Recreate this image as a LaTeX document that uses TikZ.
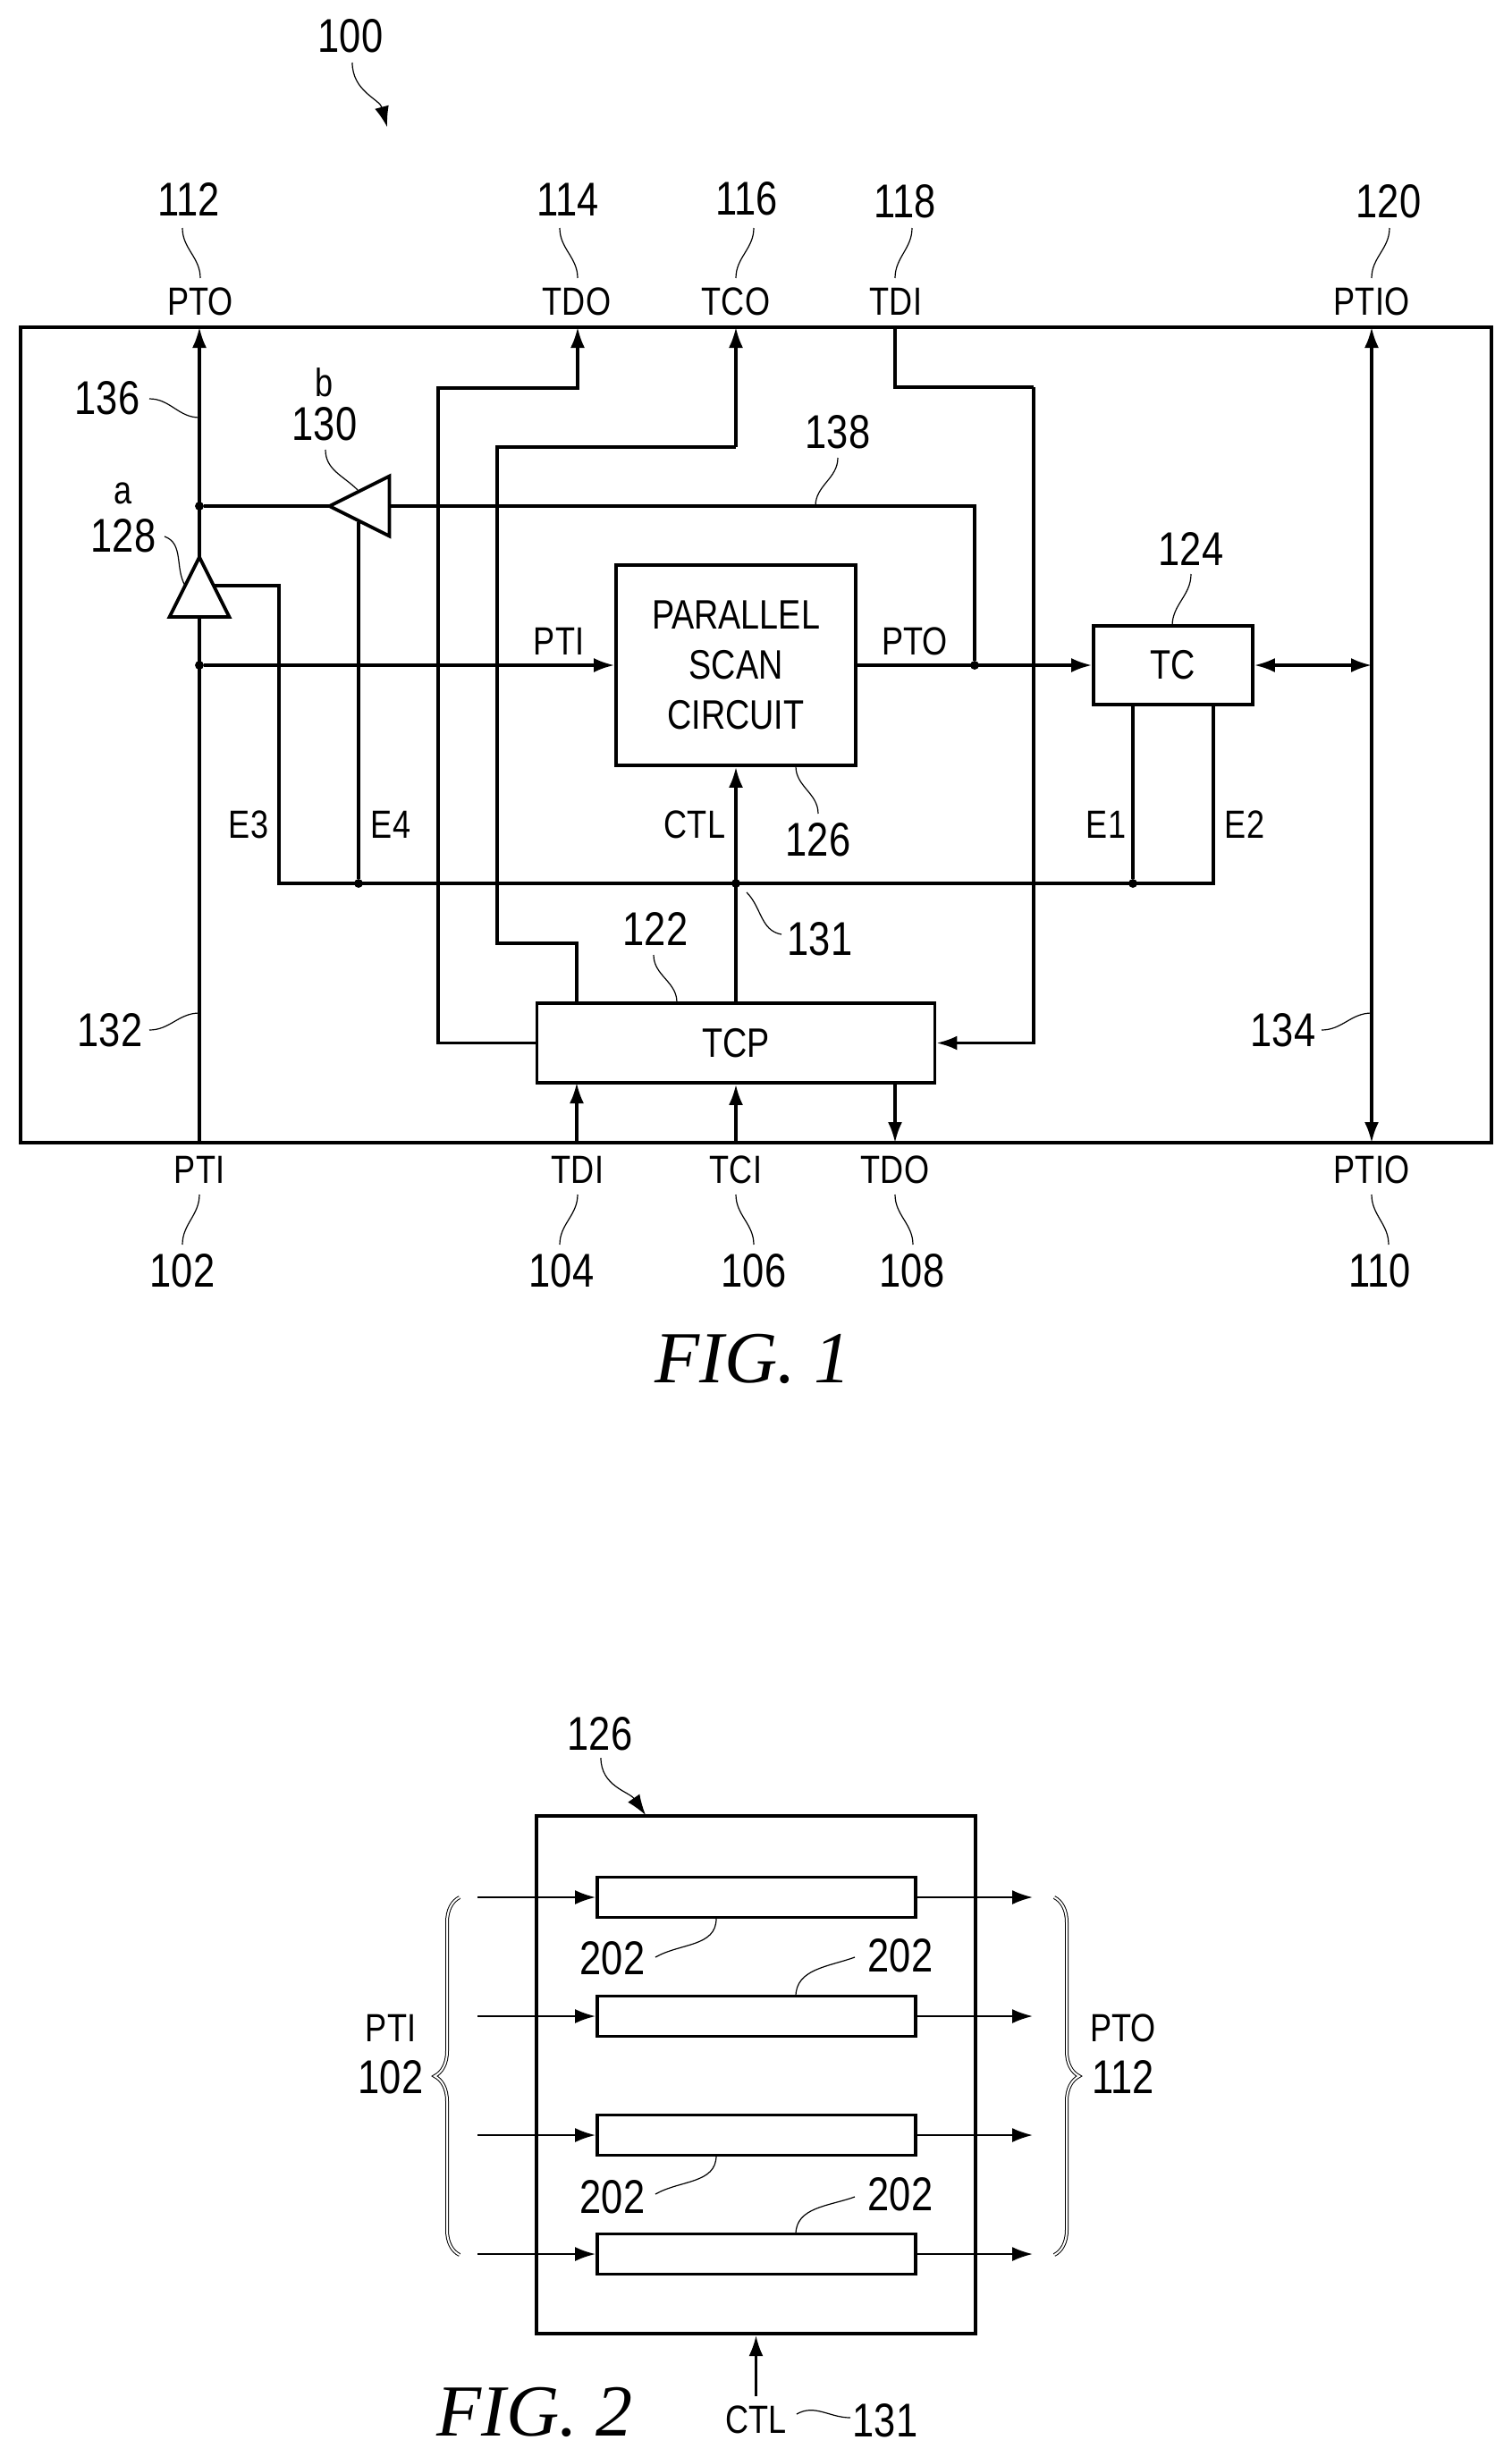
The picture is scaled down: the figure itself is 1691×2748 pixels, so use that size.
\documentclass[tikz,border=0pt]{standalone}
\usepackage{fontspec}
\setmainfont[FakeStretch=0.82]{Liberation Sans}
\newfontfamily\figfont{Liberation Serif}
\usetikzlibrary{arrows.meta,shapes.geometric,decorations.pathreplacing}

\begin{document}
\begin{tikzpicture}[x=0.5pt, y=-0.5pt, >={Latex[length=11.5pt, width=8pt]},
  frame/.style={rectangle, draw, line width=2.2pt, inner sep=0pt},
  block/.style={rectangle, draw, line width=1.9pt, inner sep=0pt, align=center, fill=white, font=\fontsize{23}{28}\selectfont},
  buffer/.style={isosceles triangle, isosceles triangle apex angle=53, isosceles triangle stretches, draw, fill=white, line width=1.9pt, inner sep=0pt, outer sep=0pt, minimum width=33.5pt, minimum height=33.5pt, anchor=apex},
  wire/.style={line width=1.6pt},
  thin wire/.style={line width=1.2pt},
  lead/.style={line width=0.6pt},
  dotnode/.style={circle, fill=black, draw=black, inner sep=0pt, minimum size=4.5pt},
  port/.style={inner sep=0pt, font=\fontsize{22}{24}\selectfont},
  refnum/.style={inner sep=0pt, font=\fontsize{26.5}{28}\selectfont},
  figlabel/.style={inner sep=0pt, font=\fontsize{41}{43}\figfont\itshape},
  bundle/.style={line width=0.5pt, double, double distance=1pt, decorate, decoration={brace, amplitude=14pt}}]

  \useasboundingbox (0,0) rectangle (1691,2748);

  \node[frame, minimum width=822.5pt, minimum height=456pt] (chip) at (845.5,822) {};
  \node[block, minimum width=134pt, minimum height=112pt] (scan) at (823,744) {PARALLEL\\SCAN\\CIRCUIT};
  \node[block, minimum width=89pt, minimum height=44pt] (tc) at (1312,744) {TC};
  \node[block, minimum width=222.5pt, minimum height=44.5pt] (tcp) at (823,1166.5) {TCP};

  \node[coordinate] (topPTO) at (223,366) {};
  \node[coordinate] (topTDO) at (646,366) {};
  \node[coordinate] (topTCO) at (823,366) {};
  \node[coordinate] (topTDI) at (1001,366) {};
  \node[coordinate] (topPTIO) at (1534,366) {};
  \node[coordinate] (botPTI) at (223,1278) {};
  \node[coordinate] (botTDI) at (645,1278) {};
  \node[coordinate] (botTCI) at (823,1278) {};
  \node[coordinate] (botTDO) at (1001,1278) {};
  \node[coordinate] (botPTIO) at (1534,1278) {};

  \node[coordinate] (bend114) at (490,434) {};
  \node[coordinate] (bend116a) at (556,1055) {};
  \node[coordinate] (bend116b) at (823,500) {};
  \node[coordinate] (bend118) at (1156,433) {};
  \node[coordinate] (busleft) at (312,988) {};
  \node[coordinate] (busright) at (1357,988) {};
  \node[coordinate] (tcE1) at (1267,788) {};
  \node[coordinate] (tcE2) at (1357,788) {};
  \node[coordinate] (tcpTCO) at (645,1122) {};
  \node[coordinate] (tcpTDI) at (645,1211) {};
  \node[coordinate] (tcpTDO) at (1001,1211) {};
  \node[coordinate] (enableA) at (239,655) {};
  \node[coordinate] (enableB) at (401,584) {};
  \node[coordinate] (ptio) at (1534,744) {};

  \node[dotnode] (dotTop) at (223,566) {};
  \node[dotnode] (dotPTI) at (223,744) {};
  \node[dotnode] (dotPTO) at (1090,744) {};
  \node[dotnode] (dotE4) at (401,988) {};
  \node[dotnode] (dotCTL) at (823,988) {};
  \node[dotnode] (dotE1) at (1267,988) {};

  \draw[wire, ->] (tcp.west) -| (bend114) -| (topTDO);
  \draw[wire] (tcpTCO) |- (bend116a) |- (bend116b);
  \draw[wire, ->] (bend116b) -- (topTCO);
  \draw[wire] (topTDI) |- (bend118);
  \draw[wire, ->] (bend118) |- (tcp.east);
  \draw[wire] (enableA) -| (busleft) -- (busright) -- (tcE2);
  \draw[wire] (dotE4) -- (enableB);
  \draw[wire] (dotE1) -- (tcE1);
  \draw[wire, ->] (tcp) -- (scan);
  \draw[wire, <->] (topPTIO) -- (botPTIO);
  \draw[wire, ->] (dotPTI) -- (scan);
  \draw[wire, ->] (scan) -- (tc);
  \draw[wire, <->] (tc) -- (ptio);
  \draw[wire, ->] (botTDI) -- (tcpTDI);
  \draw[wire, ->] (botTCI) -- (tcp);
  \draw[wire, ->] (tcpTDO) -- (botTDO);

  \node[buffer, shape border rotate=90] (bufa) at (223,623) {};
  \node[buffer, shape border rotate=180] (bufb) at (368.5,566) {};

  \draw[wire] (botPTI) -- (bufa.lower side);
  \draw[wire, ->] (bufa.apex) -- (topPTO);
  \draw[wire] (dotPTO) |- (bufb.lower side);
  \draw[wire] (bufb.apex) -- (dotTop);

  \node[port] (tPTO) at (224,337) {PTO};
  \node[port] (tTDO) at (645,337) {TDO};
  \node[port] (tTCO) at (823,337) {TCO};
  \node[port] (tTDI) at (1002,337) {TDI};
  \node[port] (tPTIO) at (1534,337) {PTIO};
  \node[port] (bPTI) at (223,1308) {PTI};
  \node[port] (bTDI) at (646,1308) {TDI};
  \node[port] (bTCI) at (823,1308) {TCI};
  \node[port] (bTDO) at (1001,1308) {TDO};
  \node[port] (bPTIO) at (1534,1308) {PTIO};
  \node[port] (sPTI) at (625,717) {PTI};
  \node[port] (sPTO) at (1023,717) {PTO};
  \node[port] (sCTL) at (777,922) {CTL};
  \node[port] (sE1) at (1237,922) {E1};
  \node[port] (sE2) at (1392,922) {E2};
  \node[port] (sE3) at (278,922) {E3};
  \node[port] (sE4) at (437,922) {E4};
  \node[port] (sa) at (138,552) {a};
  \node[port] (sb) at (363,428) {b};

  \node[refnum] (n100) at (392,40) {100};
  \node[refnum] (n112) at (211,223) {112};
  \node[refnum] (n114) at (635,223) {114};
  \node[refnum] (n116) at (835,222) {116};
  \node[refnum] (n118) at (1012,225) {118};
  \node[refnum] (n120) at (1553,225) {120};
  \node[refnum] (n136) at (120,445) {136};
  \node[refnum] (n130) at (363,474) {130};
  \node[refnum] (n128) at (138,599) {128};
  \node[refnum] (n138) at (937,483) {138};
  \node[refnum] (n124) at (1332,614) {124};
  \node[refnum] (n126) at (915,939) {126};
  \node[refnum] (n131) at (917,1050) {131};
  \node[refnum] (n122) at (733,1039) {122};
  \node[refnum] (n132) at (123,1152) {132};
  \node[refnum] (n134) at (1435,1152) {134};
  \node[refnum] (n102) at (204,1421) {102};
  \node[refnum] (n104) at (628,1421) {104};
  \node[refnum] (n106) at (843,1421) {106};
  \node[refnum] (n108) at (1020,1421) {108};
  \node[refnum] (n110) at (1543,1421) {110};

  \node[coordinate] (a100) at (394,70) {};
  \node[coordinate] (b100) at (433,142) {};
  \draw[lead, ->] (a100) to[out=270, in=105] (b100);
  \node[coordinate] (a112) at (204,255) {};
  \node[coordinate] (b112) at (224,311) {};
  \draw[lead] (a112) to[out=270, in=90] (b112);
  \node[coordinate] (a114) at (626,255) {};
  \node[coordinate] (b114) at (646,311) {};
  \draw[lead] (a114) to[out=270, in=90] (b114);
  \node[coordinate] (a116) at (843,255) {};
  \node[coordinate] (b116) at (823,311) {};
  \draw[lead] (a116) to[out=270, in=90] (b116);
  \node[coordinate] (a118) at (1020,255) {};
  \node[coordinate] (b118) at (1001,311) {};
  \draw[lead] (a118) to[out=270, in=90] (b118);
  \node[coordinate] (a120) at (1554,255) {};
  \node[coordinate] (b120) at (1534,311) {};
  \draw[lead] (a120) to[out=270, in=90] (b120);
  \node[coordinate] (a136) at (167,446) {};
  \node[coordinate] (b136) at (223,467) {};
  \draw[lead] (a136) to[out=0, in=180] (b136);
  \node[coordinate] (a130) at (364,503) {};
  \node[coordinate] (b130) at (400,548) {};
  \draw[lead] (a130) to[out=270, in=135] (b130);
  \node[coordinate] (a128) at (184,600) {};
  \node[coordinate] (b128) at (207,655) {};
  \draw[lead] (a128) to[out=-20, in=120] (b128);
  \node[coordinate] (a138) at (937,512) {};
  \node[coordinate] (b138) at (912,566) {};
  \draw[lead] (a138) to[out=270, in=90] (b138);
  \node[coordinate] (a124) at (1332,642) {};
  \node[coordinate] (b124) at (1311,700) {};
  \draw[lead] (a124) to[out=270, in=90] (b124);
  \node[coordinate] (a126) at (890,857) {};
  \node[coordinate] (b126) at (915,910) {};
  \draw[lead] (a126) to[out=270, in=90] (b126);
  \node[coordinate] (a131) at (835,998) {};
  \node[coordinate] (b131) at (874,1045) {};
  \draw[lead] (a131) to[out=-45, in=170] (b131);
  \node[coordinate] (a122) at (731,1068) {};
  \node[coordinate] (b122) at (757,1121) {};
  \draw[lead] (a122) to[out=270, in=90] (b122);
  \node[coordinate] (a132) at (167,1152) {};
  \node[coordinate] (b132) at (223,1133) {};
  \draw[lead] (a132) to[out=0, in=180] (b132);
  \node[coordinate] (a134) at (1478,1152) {};
  \node[coordinate] (b134) at (1534,1133) {};
  \draw[lead] (a134) to[out=0, in=180] (b134);
  \node[coordinate] (a102) at (223,1336) {};
  \node[coordinate] (b102) at (204,1392) {};
  \draw[lead] (a102) to[out=270, in=90] (b102);
  \node[coordinate] (a104) at (646,1336) {};
  \node[coordinate] (b104) at (626,1392) {};
  \draw[lead] (a104) to[out=270, in=90] (b104);
  \node[coordinate] (a106) at (823,1336) {};
  \node[coordinate] (b106) at (843,1392) {};
  \draw[lead] (a106) to[out=270, in=90] (b106);
  \node[coordinate] (a108) at (1001,1336) {};
  \node[coordinate] (b108) at (1021,1392) {};
  \draw[lead] (a108) to[out=270, in=90] (b108);
  \node[coordinate] (a110) at (1534,1336) {};
  \node[coordinate] (b110) at (1553,1392) {};
  \draw[lead] (a110) to[out=270, in=90] (b110);

  \node[figlabel] (fig1) at (842,1520) {FIG.\ 1};

  \node[frame, minimum width=245.5pt, minimum height=289.5pt] (scanbox) at (845.5,2320.5) {};
  \node[block, minimum width=178pt, minimum height=22.5pt] (regA) at (846,2122) {};
  \node[block, below of=regA, node distance=66.5pt, minimum width=178pt, minimum height=22.5pt] (regB) {};
  \node[block, below of=regB, node distance=66.5pt, minimum width=178pt, minimum height=22.5pt] (regC) {};
  \node[block, below of=regC, node distance=66.5pt, minimum width=178pt, minimum height=22.5pt] (regD) {};

  \node[coordinate, left of=regA, node distance=156pt] (inA) {};
  \node[coordinate, left of=regB, node distance=156pt] (inB) {};
  \node[coordinate, left of=regC, node distance=156pt] (inC) {};
  \node[coordinate, left of=regD, node distance=156pt] (inD) {};
  \node[coordinate, right of=regA, node distance=154.5pt] (outA) {};
  \node[coordinate, right of=regB, node distance=154.5pt] (outB) {};
  \node[coordinate, right of=regC, node distance=154.5pt] (outC) {};
  \node[coordinate, right of=regD, node distance=154.5pt] (outD) {};

  \draw[thin wire, ->] (inA) -- (regA);
  \draw[thin wire, ->] (inB) -- (regB);
  \draw[thin wire, ->] (inC) -- (regC);
  \draw[thin wire, ->] (inD) -- (regD);
  \draw[thin wire, ->] (regA) -- (outA);
  \draw[thin wire, ->] (regB) -- (outB);
  \draw[thin wire, ->] (regC) -- (outC);
  \draw[thin wire, ->] (regD) -- (outD);

  \node[coordinate] (brLtop) at (514,2122) {};
  \node[coordinate] (brLbot) at (514,2522) {};
  \node[coordinate] (brRtop) at (1179,2122) {};
  \node[coordinate] (brRbot) at (1179,2522) {};
  \draw[bundle] (brLbot) -- (brLtop);
  \draw[bundle] (brRtop) -- (brRbot);

  \node[port] (gPTI) at (437,2268) {PTI};
  \node[refnum] (g102) at (437,2323) {102};
  \node[port] (gPTO) at (1256,2268) {PTO};
  \node[refnum] (g112) at (1256,2323) {112};
  \node[refnum] (g126) at (671,1939) {126};
  \node[refnum] (g202a) at (685,2190) {202};
  \node[refnum] (g202b) at (1007,2187) {202};
  \node[refnum] (g202c) at (685,2457) {202};
  \node[refnum] (g202d) at (1007,2454) {202};
  \node[port, outer sep=5pt] (gCTL) at (845.5,2706) {CTL};
  \node[refnum] (g131) at (990,2707) {131};

  \draw[thin wire, ->] (gCTL) -- (scanbox);

  \node[coordinate] (a2126) at (672,1966) {};
  \node[coordinate] (b2126) at (722,2030) {};
  \draw[lead, ->] (a2126) to[out=270, in=125] (b2126);
  \node[coordinate] (a202a) at (733,2189) {};
  \node[coordinate] (b202a) at (801,2146) {};
  \draw[lead] (a202a) to[out=30, in=270] (b202a);
  \node[coordinate] (a202b) at (956,2189) {};
  \node[coordinate] (b202b) at (890,2233) {};
  \draw[lead] (a202b) to[out=200, in=90] (b202b);
  \node[coordinate] (a202c) at (733,2454) {};
  \node[coordinate] (b202c) at (801,2411) {};
  \draw[lead] (a202c) to[out=30, in=270] (b202c);
  \node[coordinate] (a202d) at (956,2457) {};
  \node[coordinate] (b202d) at (890,2499) {};
  \draw[lead] (a202d) to[out=200, in=90] (b202d);
  \node[coordinate] (a2131) at (891,2700) {};
  \node[coordinate] (b2131) at (951,2704) {};
  \draw[lead] (a2131) to[out=30, in=180] (b2131);

  \node[figlabel] (fig2) at (598,2698) {FIG.\ 2};

\end{tikzpicture}
\end{document}
